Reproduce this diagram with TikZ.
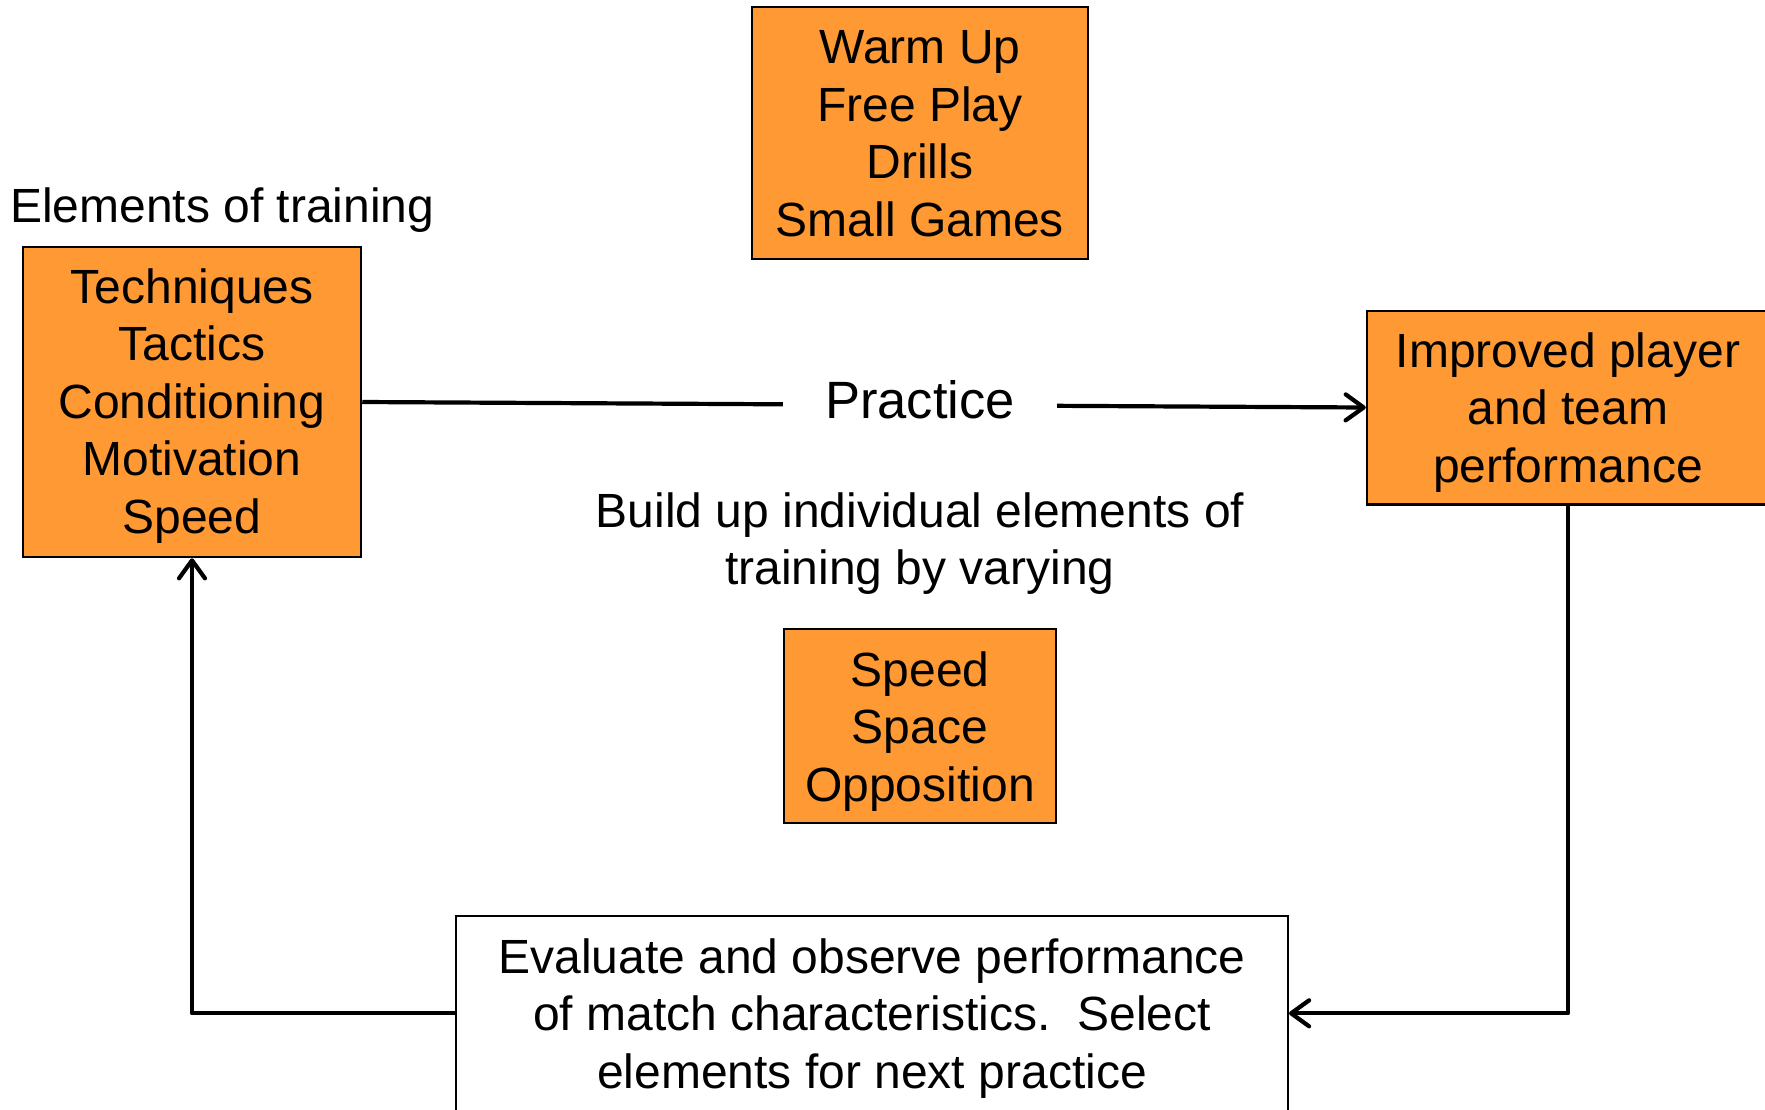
\documentclass[tikz,border=0pt]{standalone}
\usepackage{fontspec}
\setmainfont{Liberation Sans}
\usetikzlibrary{arrows.meta}
\definecolor{orangeFill}{RGB}{255,153,51}
\tikzset{
  obox/.style={draw=black, line width=2.5pt, fill=orangeFill, rectangle, inner sep=0pt},
  wbox/.style={draw=black, line width=2pt, fill=white, rectangle, inner sep=0pt},
  txt/.style={align=center, inner sep=0pt, font=\fontsize{48}{57.5}\selectfont},
  conn/.style={line width=4.2pt, line join=round, -{Straight Barb[length=18pt,width=26pt,round]}}
}
\begin{document}
\begin{tikzpicture}[x=1pt,y=-1pt]
\useasboundingbox (0,0) rectangle (1765,1109);
\clip (0,0) rectangle (1765,1109);
\fill[white] (0,0) rectangle (1765,1109);

% boxes
\node[obox, minimum width=336pt, minimum height=252pt] (warm) at (920,133) {};
\node[obox, minimum width=338pt, minimum height=310pt] (tech) at (192,402) {};
\node[obox, minimum width=402pt, minimum height=193.5pt] (impr) at (1568,407.5) {};
\node[obox, minimum width=272pt, minimum height=193.7pt] (spd) at (920,726) {};
\node[wbox, minimum width=832pt, minimum height=194.6pt] (eval) at (872,1013.3) {};

% texts
\node[txt] (warmT) at (920,138.5) {\strut Warm Up\\\strut Free Play\\\strut Drills\\\strut Small Games};
\node[txt] (techT) at (192,406.8) {\strut Techniques\\\strut Tactics\\\strut Conditioning\\\strut Motivation\\\strut Speed};
\node[txt] (imprT) at (1568,413) {\strut Improved player\\\strut and team\\\strut performance};
\node[txt] (spdT) at (920,732) {\strut Speed\\\strut Space\\\strut Opposition};
\node[txt] (evalT) at (872,1019) {\strut Evaluate and observe performance\\\strut of match characteristics.\ \ Select\\\strut elements for next practice};
\node[txt] (buildT) at (920,544.5) {\strut Build up individual elements of\\\strut training by varying};
\node[txt, anchor=base west] (elem) at (10,222.7) {Elements of training};

% connectors
\draw[conn] (tech.east) -- (impr.west);
\node[inner xsep=41.7pt, inner ysep=4pt, fill=white, anchor=base, font=\fontsize{52.5}{63}\selectfont] (prac) at (920,418.3) {Practice};
\draw[conn] (impr.south) |- (eval.east);
\draw[conn] (eval.west) -| (tech.south);
\end{tikzpicture}
\end{document}
